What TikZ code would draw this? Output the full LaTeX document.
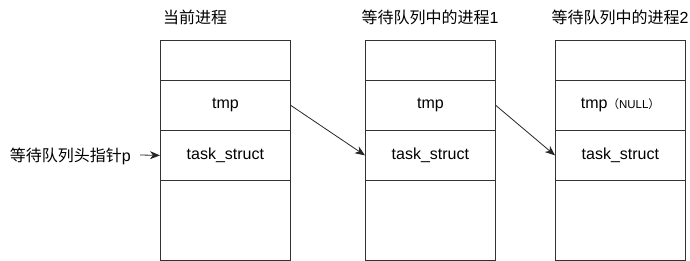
\documentclass[tikz,border=0pt]{standalone}
\usepackage{fontspec}
\setmainfont{Liberation Sans}
\newfontfamily\cjk{Noto Sans CJK SC}
\usetikzlibrary{arrows.meta}
\begin{document}
\begin{tikzpicture}[x=1pt,y=-1pt,
  cell/.style={draw=black!80,line width=0.8pt,minimum width=130pt,inner sep=0pt,anchor=north west,
     font=\fontsize{16}{19}\selectfont},
  ttl/.style={inner sep=0pt,font=\fontsize{16}{19}\selectfont\cjk},
  ptr/.style={-{Stealth[length=10pt,width=8pt,inset=3pt]},line width=0.8pt,black!85}]
\useasboundingbox (0,0) rectangle (690,261);
% box 1
\node[cell,minimum height=40pt] (a1) at (160,40) {};
\node[cell,minimum height=50pt] (t1) at (160,80) {tmp};
\node[cell,minimum height=50pt] (s1) at (160,130) {task\_struct};
\node[cell,minimum height=80pt] (b1) at (160,180) {};
% box 2
\node[cell,minimum height=40pt] (a2) at (365,40) {};
\node[cell,minimum height=50pt] (t2) at (365,80) {tmp};
\node[cell,minimum height=50pt] (s2) at (365,130) {task\_struct};
\node[cell,minimum height=80pt] (b2) at (365,180) {};
% box 3
\node[cell,minimum height=40pt] (a3) at (555,40) {};
\node[cell,minimum height=50pt] (t3) at (555,80) {tmp{\fontsize{11.5}{13}\selectfont{\cjk （}NULL{\cjk ）}}};
\node[cell,minimum height=50pt] (s3) at (555,130) {task\_struct};
\node[cell,minimum height=80pt] (b3) at (555,180) {};
% titles
\node[ttl] (h1) at (195,17) {当前进程};
\node[ttl] (h2) at (430,17) {等待队列中的进程\rmfamily 1};
\node[ttl] (h3) at (620,17) {等待队列中的进程\rmfamily 2};
% head pointer label
\node[ttl,anchor=east] (lbl) at (131,156) {等待队列头指针\rmfamily p};
\coordinate (ls) at (140,155);
\draw[ptr] (ls) -- (s1.west);
\draw[ptr] (t1.east) -- (s2.west);
\draw[ptr] (t2.east) -- (s3.west);
\end{tikzpicture}
\end{document}
